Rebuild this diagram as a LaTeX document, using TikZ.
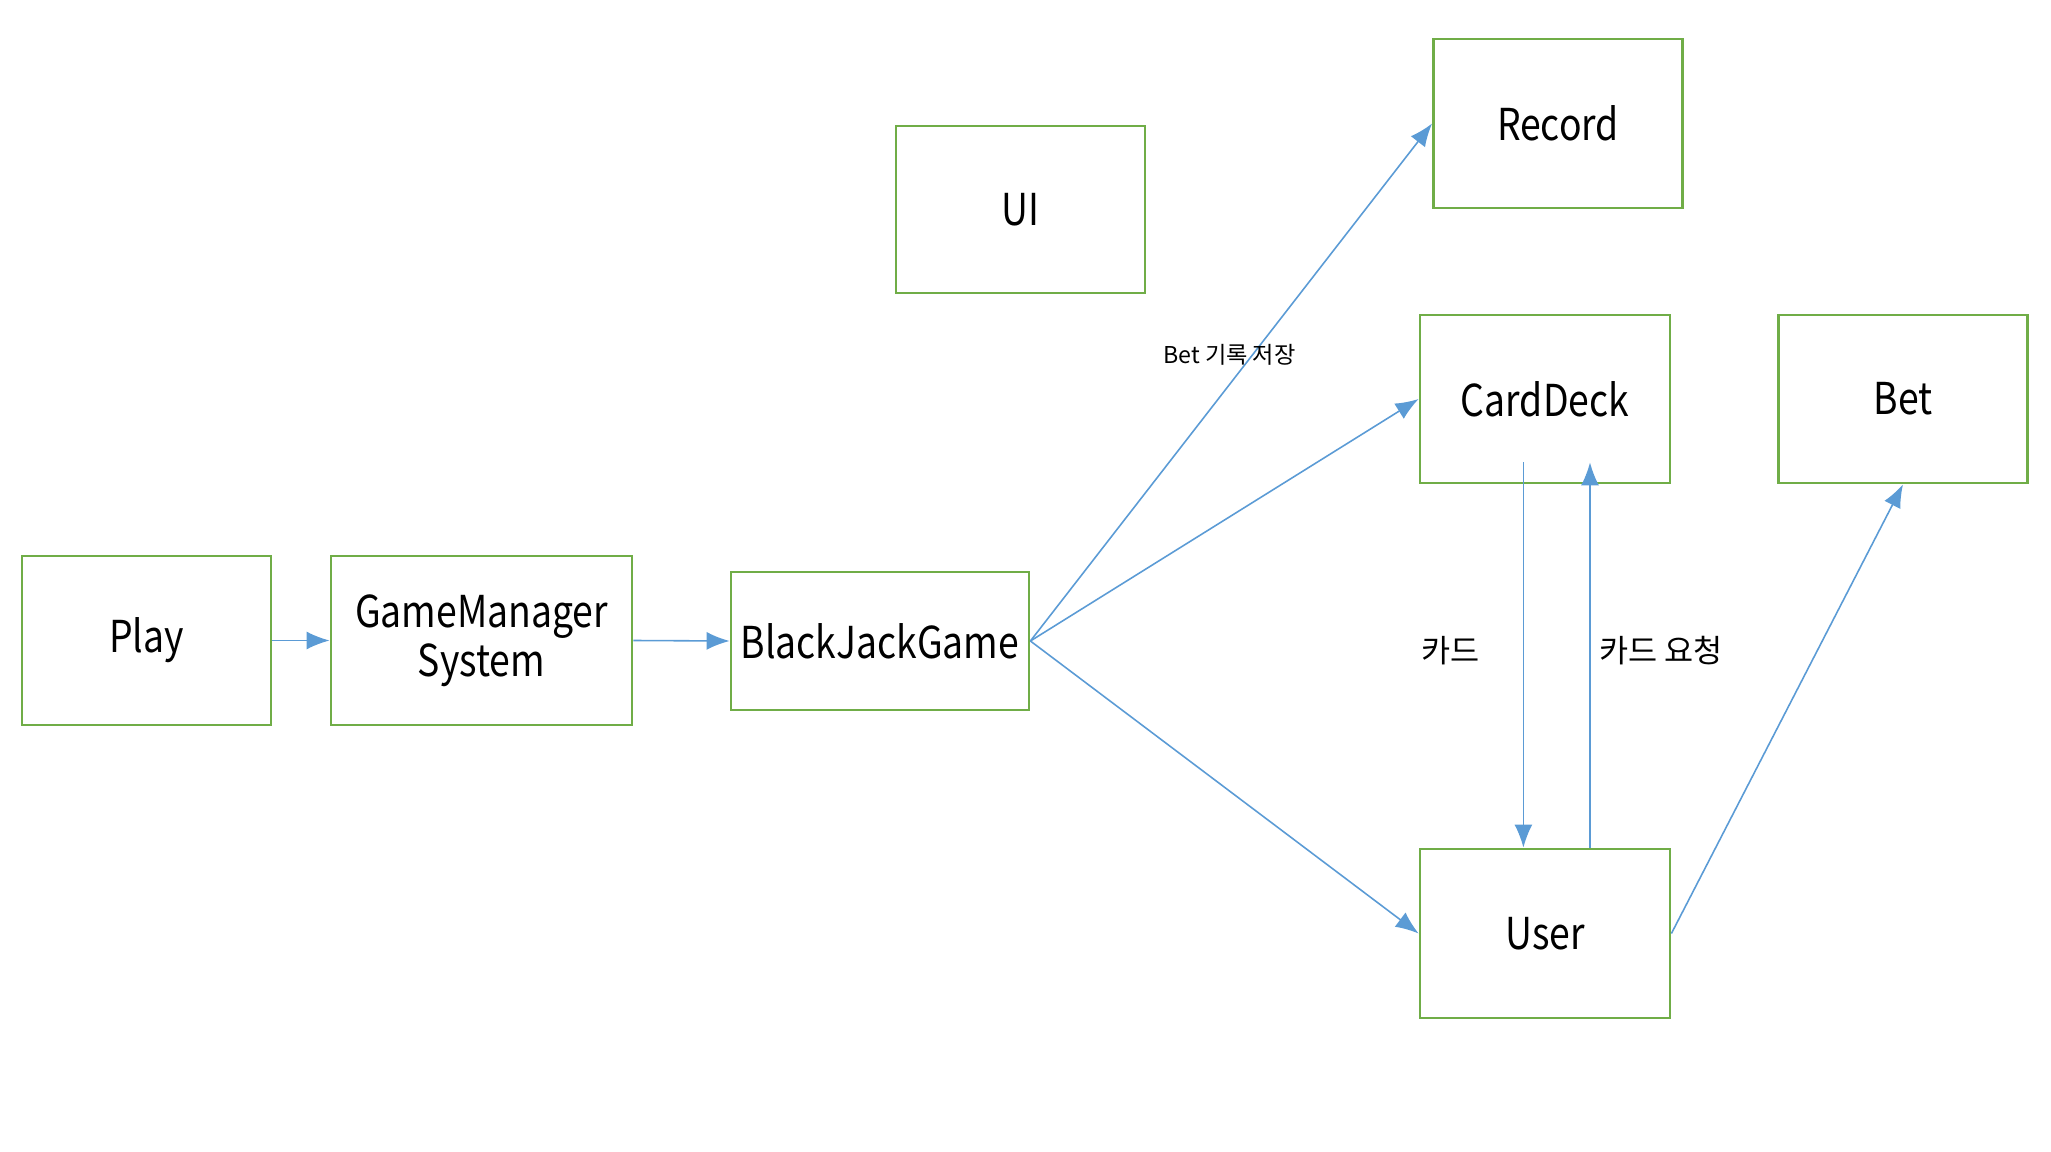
\documentclass[tikz,border=0pt]{standalone}
\usepackage{fontspec}
\setmainfont{Noto Sans CJK KR}
\newfontfamily\boxfont{Noto Sans CJK KR}[FakeStretch=0.85]
\usepackage{xcolor}
\usepackage{tikz}
\usetikzlibrary{arrows.meta}

\definecolor{boxgreen}{HTML}{70AD47}
\definecolor{linkblue}{HTML}{5B9BD5}

\tikzset{
  classbox/.style={draw=boxgreen, line width=0.8pt, minimum width=2.49cm, minimum height=1.69cm,
    inner sep=2pt, align=center, font=\boxfont\fontsize{12.5}{13}\selectfont},
  link/.style={draw=linkblue, line width=0.45pt, -{Latex[length=2.3mm,width=1.8mm]}},
  note/.style={inner sep=1pt, font=\fontsize{9}{10}\selectfont}
}

\begin{document}
\begin{tikzpicture}
\useasboundingbox (0,0) rectangle (20.51,-11.52);

\node[classbox] (play) at (1.465,-6.405) {Play};
\node[classbox, minimum width=3.01cm] (gms) at (4.815,-6.405) {GameManager\\[1pt]System};
\node[classbox, minimum width=2.98cm, minimum height=1.38cm] (bjg) at (8.80,-6.41) {BlackJackGame};
\node[classbox, minimum height=1.67cm] (ui) at (10.205,-2.095) {UI};
\node[classbox] (record) at (15.58,-1.235) {Record};
\node[classbox, minimum width=2.50cm, minimum height=1.68cm] (deck) at (15.45,-3.99) {CardDeck};
\node[classbox, minimum height=1.68cm] (bet) at (19.03,-3.99) {Bet};
\node[classbox, minimum width=2.50cm] (user) at (15.45,-9.335) {User};

% main flow
\draw[link] (play.east) -- (gms.west);
\draw[link] (gms.east) -- (bjg.west);
\draw[link] (bjg.east) -- (record.west);
\draw[link] (bjg.east) -- (deck.west);
\draw[link] (bjg.east) -- (user.west);

% card exchange
\coordinate (deckout) at ([xshift=-0.216cm, yshift=0.22cm]deck.south);
\coordinate (deckin) at ([xshift=0.45cm, yshift=0.22cm]deck.south);
\draw[link] (deckout) -- (deckout |- user.north);
\draw[link] (deckin |- user.north) -- (deckin);
\draw[link] (user.east) -- (bet.south);

\node[note, font=\fontsize{6.6}{7}\selectfont] (betlog) at (12.295,-3.545) {Bet 기록 저장};
\node[note] (cardlbl) at (14.506,-6.51) {카드};
\node[note] (reqlbl) at (16.61,-6.51) {카드 요청};
\end{tikzpicture}
\end{document}
